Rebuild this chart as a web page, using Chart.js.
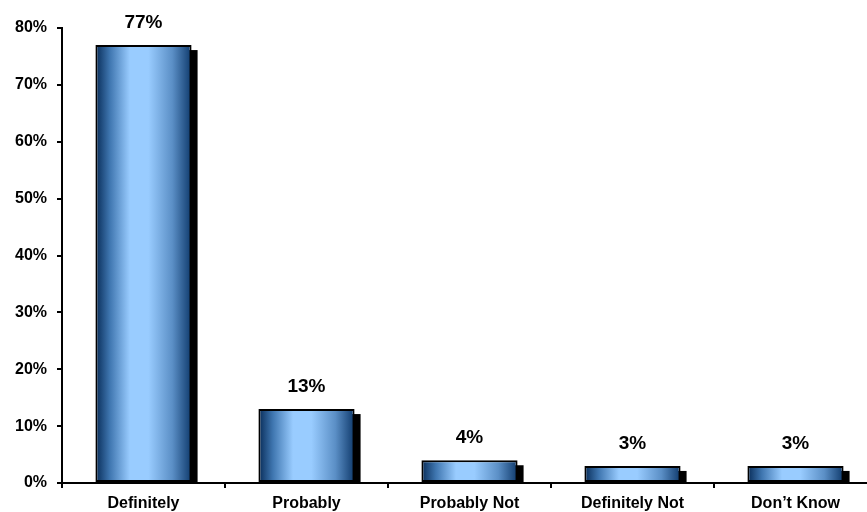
<!DOCTYPE html>
<html>
<head>
<meta charset="utf-8">
<script src="https://cdn.jsdelivr.net/npm/chart.js@4.4.1/dist/chart.umd.min.js"></script>
<style>
  html, body { margin: 0; padding: 0; background: #fff; overflow: hidden; }
  #wrap { width: 877px; height: 512px; }
</style>
</head>
<body>
<div id="wrap"><canvas id="answerChart"></canvas></div>
<script>
let categories = ["Definitely", "Probably", "Probably Not", "Definitely Not", "Don\u2019t Know"];
let percents = [77, 13, 4, 3, 3];
let yTicks = [0, 10, 20, 30, 40, 50, 60, 70, 80];

const FONT = "'Liberation Sans', Arial, sans-serif";

function barGradient(context) {
    let chart = context.chart;
    let xScale = chart.scales.x;
    if (!chart.chartArea || !xScale) return "#6fa8e0";
    let center = xScale.getPixelForValue(context.dataIndex);
    let half = xScale.width / categories.length * 0.59 / 2;
    let g = chart.ctx.createLinearGradient(center - half, 0, center + half, 0);
    g.addColorStop(0, "#072b57");
    g.addColorStop(0.15, "#3f76b0");
    g.addColorStop(0.36, "#99ccff");
    g.addColorStop(0.55, "#99ccff");
    g.addColorStop(0.8, "#5b8fc6");
    g.addColorStop(1, "#0f3a6c");
    return g;
}

// black drop shadow behind each bar, taken from the bar elements
const shadowPlugin = {
    id: "barShadow",
    beforeDatasetsDraw(chart) {
        let ctx = chart.ctx;
        let meta = chart.getDatasetMeta(0);
        ctx.save();
        ctx.fillStyle = "#000";
        meta.data.forEach(bar => {
            let left = bar.x - bar.width / 2 + 5;
            let top = bar.y + 5;
            ctx.fillRect(left, top, bar.width + 1, bar.base - top);
        });
        ctx.restore();
    }
};

// percentage labels above bars
const valueLabels = {
    id: "valueLabels",
    afterDraw(chart) {
        let ctx = chart.ctx;
        let meta = chart.getDatasetMeta(0);
        ctx.save();
        ctx.fillStyle = "#000";
        ctx.font = "bold 19px " + FONT;
        ctx.textAlign = "center";
        ctx.textBaseline = "bottom";
        meta.data.forEach((bar, i) => {
            ctx.fillText(percents[i] + "%", bar.x, bar.y - 13);
        });
        ctx.restore();
    }
};

new Chart(document.getElementById("answerChart"), {
    type: "bar",
    data: {
        labels: categories,
        datasets: [{
            data: percents,
            backgroundColor: barGradient,
            borderColor: "#000",
            borderWidth: 2,
            borderSkipped: false,
            barPercentage: 0.59,
            categoryPercentage: 1
        }]
    },
    options: {
        responsive: true,
        maintainAspectRatio: false,
        animation: false,
        layout: { padding: { top: 28, left: 0, right: 0, bottom: 0 } },
        plugins: { legend: { display: false }, tooltip: { enabled: false } },
        scales: {
            y: {
                min: 0,
                max: 80,
                afterFit: s => { s.width = 62; },
                afterBuildTicks: s => { s.ticks = yTicks.map(v => ({ value: v })); },
                border: { color: "#000", width: 2 },
                grid: { drawOnChartArea: false, drawTicks: true, tickLength: 5, tickColor: "#000", lineWidth: 2 },
                ticks: {
                    color: "#000",
                    padding: 10,
                    font: { family: FONT, size: 16, weight: "bold" },
                    callback: v => v + "%"
                }
            },
            x: {
                afterFit: s => { s.height = 29; },
                border: { color: "#000", width: 2 },
                grid: { offset: true, drawOnChartArea: false, drawTicks: true, tickLength: 5, tickColor: "#000", lineWidth: 2 },
                ticks: {
                    color: "#000",
                    padding: 6,
                    maxRotation: 0,
                    font: { family: FONT, size: 16, weight: "bold" }
                }
            }
        }
    },
    plugins: [shadowPlugin, valueLabels]
});
</script>
</body>
</html>
